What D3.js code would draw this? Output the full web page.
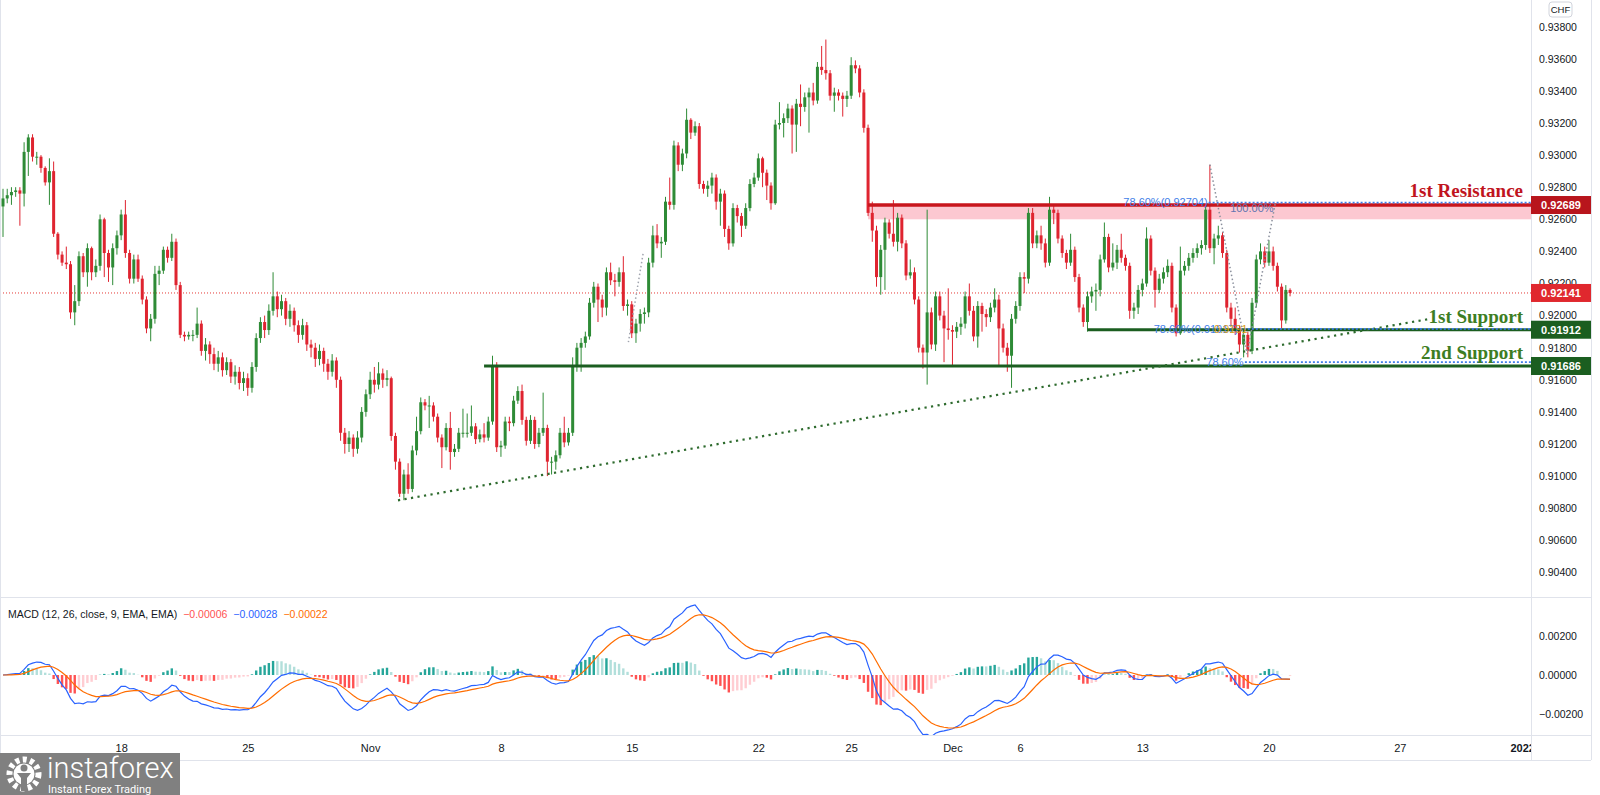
<!DOCTYPE html>
<html>
<head>
<meta charset="utf-8">
<script src="https://cdn.jsdelivr.net/npm/d3@7"></script>
<style>
html, body { margin: 0; padding: 0; background: #fff; }
svg { display: block; }
text { font-family: "Liberation Sans", Arial, sans-serif; }
</style>
</head>
<body>
<div id="chart"></div>
<script>
// USDCHF 4H candles (open = previous close)
var firstOpen = 0.9268;
var closes = [
  0.9273,0.9275,0.9277,0.9278,0.9276,0.9302,0.9311,0.9299,0.9299,0.9292,
  0.9283,0.9290,0.9251,0.9238,0.9233,0.9232,0.9202,0.9209,0.9237,0.9227,
  0.9242,0.9227,0.9231,0.9260,0.9239,0.9230,0.9242,0.9250,0.9263,0.9239,
  0.9223,0.9235,0.9223,0.9210,0.9192,0.9198,0.9226,0.9228,0.9241,0.9236,
  0.9246,0.9219,0.9188,0.9187,0.9188,0.9188,0.9195,0.9178,0.9182,0.9176,
  0.9170,0.9174,0.9166,0.9171,0.9162,0.9165,0.9158,0.9161,0.9155,0.9168,
  0.9186,0.9196,0.9191,0.9203,0.9212,0.9204,0.9209,0.9198,0.9203,0.9194,
  0.9188,0.9194,0.9182,0.9180,0.9173,0.9178,0.9170,0.9165,0.9172,0.9160,
  0.9127,0.9120,0.9124,0.9117,0.9124,0.9140,0.9151,0.9160,0.9157,0.9164,
  0.9160,0.9161,0.9125,0.9109,0.9089,0.9101,0.9092,0.9116,0.9128,0.9146,
  0.9144,0.9144,0.9137,0.9124,0.9118,0.9130,0.9115,0.9117,0.9127,0.9127,
  0.9127,0.9131,0.9123,0.9126,0.9124,0.9134,0.9168,0.9118,0.9119,0.9134,
  0.9133,0.9147,0.9153,0.9135,0.9122,0.9135,0.9120,0.9127,0.9130,0.9109,
  0.9109,0.9113,0.9127,0.9121,0.9127,0.9168,0.9180,0.9183,0.9187,0.9208,
  0.9218,0.9210,0.9205,0.9227,0.9222,0.9221,0.9227,0.9206,0.9207,0.9189,
  0.9195,0.9201,0.9202,0.9233,0.9250,0.9245,0.9246,0.9271,0.9269,0.9306,
  0.9294,0.9301,0.9322,0.9314,0.9318,0.9282,0.9279,0.9281,0.9286,0.9271,
  0.9276,0.9254,0.9245,0.9267,0.9262,0.9256,0.9267,0.9282,0.9286,0.9298,
  0.9289,0.9281,0.9270,0.9319,0.9320,0.9323,0.9329,0.9319,0.9332,0.9330,
  0.9336,0.9339,0.9334,0.9355,0.9353,0.9351,0.9337,0.9339,0.9337,0.9335,
  0.9337,0.9356,0.9354,0.9339,0.9317,0.9264,0.9253,0.9224,0.9241,0.9258,
  0.9251,0.9246,0.9261,0.9245,0.9225,0.9227,0.9210,0.9180,0.9177,0.9202,
  0.9182,0.9212,0.9200,0.9192,0.9191,0.9190,0.9193,0.9195,0.9212,0.9203,
  0.9187,0.9206,0.9201,0.9199,0.9205,0.9210,0.9192,0.9180,0.9175,0.9198,
  0.9206,0.9224,0.9223,0.9264,0.9245,0.9250,0.9245,0.9233,0.9266,0.9264,
  0.9248,0.9239,0.9233,0.9241,0.9224,0.9205,0.9196,0.9212,0.9215,0.9216,
  0.9235,0.9249,0.9230,0.9233,0.9241,0.9236,0.9231,0.9203,0.9205,0.9216,
  0.9220,0.9248,0.9228,0.9216,0.9223,0.9227,0.9231,0.9205,0.9189,0.9228,
  0.9231,0.9236,0.9239,0.9242,0.9244,0.9266,0.9242,0.9248,0.9250,0.9239,
  0.9205,0.9198,0.9191,0.9182,0.9188,0.9178,0.9208,0.9235,0.9240,0.9233,
  0.9240,0.9231,0.9218,0.9197,0.9216,0.92141
];
var highs = [
  0.9279,0.9279,0.9280,0.9280,0.9280,0.9308,0.9313,0.9313,0.9302,0.9300,
  0.9293,0.9298,0.9296,0.9252,0.9240,0.9243,0.9234,0.9219,0.9240,0.9239,
  0.9245,0.9243,0.9235,0.9263,0.9261,0.9241,0.9245,0.9253,0.9266,0.9272,
  0.9241,0.9238,0.9238,0.9225,0.9212,0.9201,0.9231,0.9231,0.9243,0.9243,
  0.9251,0.9248,0.9221,0.9190,0.9190,0.9191,0.9205,0.9197,0.9186,0.9184,
  0.9180,0.9178,0.9177,0.9174,0.9173,0.9169,0.9168,0.9165,0.9164,0.9171,
  0.9189,0.9199,0.9200,0.9207,0.9227,0.9215,0.9213,0.9211,0.9207,0.9205,
  0.9197,0.9198,0.9196,0.9185,0.9183,0.9182,0.9180,0.9173,0.9176,0.9174,
  0.9162,0.9130,0.9128,0.9126,0.9128,0.9143,0.9154,0.9165,0.9168,0.9171,
  0.9167,0.9166,0.9162,0.9127,0.9111,0.9104,0.9108,0.9119,0.9137,0.9149,
  0.9148,0.9150,0.9146,0.9139,0.9126,0.9133,0.9140,0.9120,0.9130,0.9142,
  0.9139,0.9144,0.9133,0.9129,0.9133,0.9137,0.9175,0.9171,0.9122,0.9137,
  0.9137,0.9150,0.9156,0.9157,0.9137,0.9138,0.9137,0.9130,0.9152,0.9132,
  0.9112,0.9116,0.9130,0.9137,0.9130,0.9174,0.9183,0.9186,0.9190,0.9211,
  0.9221,0.9220,0.9213,0.9230,0.9233,0.9226,0.9230,0.9237,0.9210,0.9209,
  0.9198,0.9204,0.9205,0.9236,0.9256,0.9257,0.9249,0.9274,0.9286,0.9309,
  0.9308,0.9304,0.9329,0.9323,0.9321,0.9320,0.9284,0.9284,0.9289,0.9288,
  0.9279,0.9278,0.9256,0.9270,0.9269,0.9264,0.9270,0.9285,0.9289,0.9301,
  0.9299,0.9291,0.9283,0.9322,0.9333,0.9326,0.9332,0.9331,0.9335,0.9344,
  0.9339,0.9342,0.9345,0.9358,0.9368,0.9372,0.9353,0.9342,0.9341,0.9339,
  0.9340,0.9361,0.9359,0.9356,0.9341,0.9319,0.9271,0.9256,0.9244,0.9261,
  0.9260,0.9272,0.9264,0.9263,0.9247,0.9235,0.9230,0.9212,0.9182,0.9266,
  0.9205,0.9215,0.9215,0.9203,0.9217,0.9194,0.9196,0.9199,0.9215,0.9220,
  0.9206,0.9209,0.9208,0.9204,0.9208,0.9217,0.9213,0.9195,0.9183,0.9201,
  0.9209,0.9227,0.9227,0.9267,0.9267,0.9253,0.9256,0.9248,0.9274,0.9269,
  0.9266,0.9250,0.9241,0.9251,0.9243,0.9226,0.9207,0.9215,0.9218,0.9220,
  0.9238,0.9258,0.9251,0.9245,0.9244,0.9251,0.9238,0.9233,0.9208,0.9219,
  0.9223,0.9255,0.9250,0.9230,0.9226,0.9230,0.9235,0.9233,0.9207,0.9243,
  0.9234,0.9239,0.9242,0.9245,0.9247,0.9269,0.9294,0.9251,0.9256,0.9252,
  0.9241,0.9208,0.9205,0.9194,0.9191,0.9190,0.9211,0.9238,0.9245,0.9243,
  0.9247,0.9243,0.9233,0.9220,0.9219,0.9217
];
var lows = [
  0.9249,0.9270,0.9269,0.9274,0.9256,0.9268,0.9287,0.9296,0.9294,0.9289,
  0.9281,0.9269,0.9249,0.9235,0.9231,0.9229,0.9198,0.9194,0.9206,0.9224,
  0.9218,0.9222,0.9224,0.9228,0.9224,0.9221,0.9219,0.9238,0.9247,0.9236,
  0.9220,0.9220,0.9221,0.9207,0.9189,0.9184,0.9195,0.9219,0.9226,0.9233,
  0.9234,0.9216,0.9186,0.9184,0.9185,0.9184,0.9186,0.9175,0.9172,0.9170,
  0.9166,0.9165,0.9162,0.9163,0.9158,0.9157,0.9154,0.9153,0.9150,0.9152,
  0.9165,0.9183,0.9186,0.9188,0.9200,0.9199,0.9200,0.9194,0.9193,0.9190,
  0.9183,0.9185,0.9178,0.9174,0.9168,0.9169,0.9165,0.9160,0.9162,0.9155,
  0.9122,0.9114,0.9115,0.9112,0.9114,0.9121,0.9137,0.9148,0.9152,0.9154,
  0.9155,0.9156,0.9122,0.9104,0.9087,0.9085,0.9089,0.9090,0.9113,0.9126,
  0.9141,0.9130,0.9134,0.9121,0.9105,0.9116,0.9104,0.9112,0.9115,0.9124,
  0.9124,0.9125,0.9120,0.9121,0.9121,0.9122,0.9132,0.9115,0.9112,0.9117,
  0.9128,0.9131,0.9145,0.9132,0.9119,0.9120,0.9117,0.9118,0.9125,0.9100,
  0.9101,0.9104,0.9111,0.9118,0.9119,0.9125,0.9165,0.9165,0.9180,0.9185,
  0.9205,0.9196,0.9199,0.9200,0.9219,0.9212,0.9218,0.9203,0.9200,0.9186,
  0.9183,0.9190,0.9195,0.9199,0.9230,0.9242,0.9236,0.9244,0.9266,0.9266,
  0.9290,0.9290,0.9298,0.9310,0.9312,0.9279,0.9276,0.9274,0.9276,0.9266,
  0.9256,0.9249,0.9241,0.9243,0.9258,0.9249,0.9254,0.9265,0.9280,0.9284,
  0.9280,0.9272,0.9266,0.9269,0.9316,0.9311,0.9320,0.9301,0.9302,0.9318,
  0.9327,0.9314,0.9331,0.9332,0.9350,0.9347,0.9334,0.9327,0.9334,0.9324,
  0.9330,0.9335,0.9351,0.9336,0.9314,0.9262,0.9246,0.9218,0.9213,0.9216,
  0.9248,0.9243,0.9240,0.9242,0.9222,0.9223,0.9207,0.9177,0.9167,0.9157,
  0.9179,0.9178,0.9197,0.9171,0.9185,0.9168,0.9186,0.9188,0.9192,0.9200,
  0.9184,0.9180,0.9190,0.9193,0.9196,0.9202,0.9168,0.9177,0.9165,0.9155,
  0.9195,0.9203,0.9214,0.9220,0.9242,0.9242,0.9241,0.9230,0.9231,0.9257,
  0.9245,0.9236,0.9229,0.9231,0.9221,0.9202,0.9193,0.9190,0.9208,0.9203,
  0.9212,0.9233,0.9227,0.9228,0.9229,0.9233,0.9228,0.9198,0.9198,0.9201,
  0.9212,0.9218,0.9225,0.9205,0.9214,0.9220,0.9224,0.9202,0.9187,0.9188,
  0.9225,0.9228,0.9233,0.9236,0.9238,0.9241,0.9239,0.9232,0.9244,0.9236,
  0.9202,0.9194,0.9188,0.9177,0.9174,0.9174,0.9176,0.9205,0.9232,0.9230,
  0.9231,0.9228,0.9215,0.9191,0.9195,0.9212
];

var priceTicks = [0.938,0.936,0.934,0.932,0.930,0.928,0.926,0.924,0.922,0.920,0.918,0.916,0.914,0.912,0.910,0.908,0.906,0.904];
var macdTicks = [0.002, 0, -0.002];
var timeTickIdx = [28, 58, 87, 118, 149, 179, 201, 225, 241, 270, 300, 331, 360];
var timeTickText = ["18", "25", "Nov", "8", "15", "22", "25", "Dec", "6", "13", "20", "27", "2022"];
var macdLegend = ["\u22120.00006", "\u22120.00028", "\u22120.00022"];

// levels drawn on the chart
var lastPrice = 0.92141;
var res1 = 0.92689, res1Zone = 0.9260, res1Start = 205;
var sup1 = 0.91912, sup1Start = 257;
var sup2 = 0.91686, sup2Start = 114;
var trendLine = [[93.6, 0.90849], [338, 0.91979]];
var fibTop = 0.92704, fibMid = 0.91917, fibLow = 0.91710;
var zigzag = [[286, 0.9294], [294.8, 0.9176], [301.5, 0.9270]];
var zigzagSmall = [[148.2, 0.91834], [151.7, 0.92388]];

var W = 1600, H = 795;
var plotRight = 1531, axisRight = 1591;
var paneSplit = 597, timeTop = 735, timeBottom = 760;

var svg = d3.select("#chart").append("svg")
  .attr("width", W).attr("height", H);

var x = d3.scaleLinear().domain([0, 362.1]).range([3, plotRight]);
var y = d3.scaleLinear().domain([0.904, 0.938]).range([572.4, 26.7]);
var yM = d3.scaleLinear().domain([-0.002, 0.002]).range([714, 636]);

var defs = svg.append("defs");
defs.append("clipPath").attr("id", "mainClip").append("rect")
  .attr("x", 0).attr("y", 0).attr("width", plotRight).attr("height", paneSplit);
defs.append("clipPath").attr("id", "macdClip").append("rect")
  .attr("x", 0).attr("y", paneSplit + 1).attr("width", plotRight).attr("height", timeTop - paneSplit - 1);
defs.append("clipPath").attr("id", "timeClip").append("rect")
  .attr("x", 0).attr("y", timeTop).attr("width", plotRight).attr("height", timeBottom - timeTop);

var main = svg.append("g").attr("clip-path", "url(#mainClip)");

// resistance zone
main.append("rect")
  .attr("x", x(res1Start)).attr("width", plotRight - x(res1Start))
  .attr("y", y(res1)).attr("height", y(res1Zone) - y(res1))
  .attr("fill", "#fcc8d1");

// last price dotted line
main.append("line")
  .attr("x1", 0).attr("x2", plotRight)
  .attr("y1", y(lastPrice)).attr("y2", y(lastPrice))
  .attr("stroke", "#e53935").attr("stroke-width", 1).attr("stroke-dasharray", "1,2");

// candles
var candles = closes.map(function(c, i) {
  var o = i ? closes[i - 1] : firstOpen;
  return {i: i, o: o, c: c, h: Math.max(highs[i], o, c), l: Math.min(lows[i], o, c)};
});
var up = "#2e8b36", down = "#df2430";
var cg = main.append("g");
cg.selectAll(".wick").data(candles).enter().append("line")
  .attr("class", "wick")
  .attr("x1", function(d) { return x(d.i); })
  .attr("x2", function(d) { return x(d.i); })
  .attr("y1", function(d) { return y(d.h); })
  .attr("y2", function(d) { return y(d.l); })
  .attr("stroke", function(d) { return d.c >= d.o ? up : down; })
  .attr("stroke-width", 1);
cg.selectAll(".body").data(candles).enter().append("rect")
  .attr("class", "body")
  .attr("x", function(d) { return x(d.i) - 1.5; })
  .attr("width", 3)
  .attr("y", function(d) { return y(Math.max(d.o, d.c)); })
  .attr("height", function(d) { return Math.max(1, Math.abs(y(d.o) - y(d.c))); })
  .attr("fill", function(d) { return d.c >= d.o ? up : down; });

// support / resistance lines
main.append("line")
  .attr("x1", x(res1Start)).attr("x2", plotRight)
  .attr("y1", y(res1)).attr("y2", y(res1))
  .attr("stroke", "#c8161d").attr("stroke-width", 3.5);
main.append("line")
  .attr("x1", x(sup1Start)).attr("x2", plotRight)
  .attr("y1", y(sup1)).attr("y2", y(sup1))
  .attr("stroke", "#1b5e20").attr("stroke-width", 3);
main.append("line")
  .attr("x1", x(sup2Start)).attr("x2", plotRight)
  .attr("y1", y(sup2)).attr("y2", y(sup2))
  .attr("stroke", "#1b5e20").attr("stroke-width", 3);

// rising trend line
main.append("line")
  .attr("x1", x(trendLine[0][0])).attr("y1", y(trendLine[0][1]))
  .attr("x2", x(trendLine[1][0])).attr("y2", y(trendLine[1][1]))
  .attr("stroke", "#2e6b2e").attr("stroke-width", 2.2).attr("stroke-dasharray", "2.2,4.4");

// fib dotted levels
var fibBlue = "#3f7ee8";
function fibLine(level, fromIdx) {
  main.append("line")
    .attr("x1", x(fromIdx)).attr("x2", plotRight)
    .attr("y1", y(level)).attr("y2", y(level))
    .attr("stroke", fibBlue).attr("stroke-width", 1.6).attr("stroke-dasharray", "2,2");
}
fibLine(fibTop, 285.7);
fibLine(fibMid, 293.1);
fibLine(fibLow, 294.3);

var line = d3.line().x(function(d) { return x(d[0]); }).y(function(d) { return y(d[1]); });
main.append("path").attr("d", line(zigzag))
  .attr("fill", "none").attr("stroke", "#8a8f9c").attr("stroke-width", 1.5).attr("stroke-dasharray", "1.5,2.5");
main.append("path").attr("d", line(zigzagSmall))
  .attr("fill", "none").attr("stroke", "#a0a4ae").attr("stroke-width", 1.5).attr("stroke-dasharray", "1.5,2.5");

// fib texts
main.append("text").attr("x", x(285.5)).attr("y", y(fibTop) + 3.7)
  .attr("text-anchor", "end").attr("fill", fibBlue).style("font-size", "11px").text("78.60%(0.92704)");
main.append("text").attr("x", x(290.8)).attr("y", y(fibTop) + 9)
  .attr("fill", "#6275b0").style("font-size", "11px").text("100.00%");
main.append("text").attr("x", x(292.7)).attr("y", y(fibMid) + 4.5)
  .attr("text-anchor", "end").attr("fill", fibBlue).style("font-size", "11px").text("78.60%(0.91917)");
main.append("text").attr("x", x(287)).attr("y", y(fibMid) + 4.5)
  .attr("fill", "#e0a020").style("font-size", "11px").text("0.9191");
main.append("text").attr("x", x(294)).attr("y", y(fibLow) + 4)
  .attr("text-anchor", "end").attr("fill", fibBlue).style("font-size", "11px").text("78.60%");

// level names
function levelName(txt, level, dy, color) {
  svg.append("text").attr("x", 1523).attr("y", y(level) + dy)
    .attr("text-anchor", "end").attr("fill", color)
    .style("font-family", "'Liberation Serif', 'DejaVu Serif', serif")
    .style("font-weight", "bold").style("font-size", "19px").text(txt);
}
levelName("1st Resistance", res1, -8, "#c0141e");
levelName("1st Support", sup1, -7, "#3d7d23");
levelName("2nd Support", sup2, -7, "#3d7d23");

// MACD (12, 26, close, 9) from the closes above
function ema(arr, n) {
  var k = 2 / (n + 1), prev = arr[0];
  return arr.map(function(v, i) { prev = i ? v * k + prev * (1 - k) : v; return prev; });
}
var e12 = ema(closes, 12), e26 = ema(closes, 26);
var macd = e12.map(function(v, i) { return v - e26[i]; });
var signal = ema(macd, 9);
var hist = macd.map(function(v, i) { return v - signal[i]; });

var mg = svg.append("g").attr("clip-path", "url(#macdClip)");
mg.selectAll(".hist").data(hist).enter().append("rect")
  .attr("class", "hist")
  .attr("x", function(d, i) { return x(i) - 1.2; })
  .attr("width", 2.4)
  .attr("y", function(d) { return Math.min(yM(0), yM(d)); })
  .attr("height", function(d) { return Math.abs(yM(d) - yM(0)); })
  .attr("fill", function(d, i) {
    var p = i ? hist[i - 1] : d;
    if (d >= 0) return d >= p ? "#26a69a" : "#b2dfdb";
    return d < p ? "#ff5252" : "#ffcdd2";
  });
var mline = d3.line().x(function(d, i) { return x(i); }).y(function(d) { return yM(d); });
mg.append("path").attr("d", mline(macd)).attr("fill", "none").attr("stroke", "#2962ff").attr("stroke-width", 1.2);
mg.append("path").attr("d", mline(signal)).attr("fill", "none").attr("stroke", "#ff6d00").attr("stroke-width", 1.2);

var legend = svg.append("text").attr("x", 8).attr("y", 618).style("font-size", "10.5px").attr("fill", "#131722");
legend.append("tspan").text("MACD (12, 26, close, 9, EMA, EMA)");
legend.append("tspan").attr("dx", 6).attr("fill", "#ff5252").text(macdLegend[0]);
legend.append("tspan").attr("dx", 6).attr("fill", "#2962ff").text(macdLegend[1]);
legend.append("tspan").attr("dx", 6).attr("fill", "#ff6d00").text(macdLegend[2]);

// frame
var frame = svg.append("g").attr("stroke", "#e0e3eb").attr("stroke-width", 1);
frame.append("line").attr("x1", 0.5).attr("x2", 0.5).attr("y1", 0).attr("y2", timeBottom);
frame.append("line").attr("x1", plotRight + 0.5).attr("x2", plotRight + 0.5).attr("y1", 0).attr("y2", timeBottom);
frame.append("line").attr("x1", axisRight + 0.5).attr("x2", axisRight + 0.5).attr("y1", 0).attr("y2", timeBottom);
frame.append("line").attr("x1", 0).attr("x2", axisRight).attr("y1", paneSplit + 0.5).attr("y2", paneSplit + 0.5);
frame.append("line").attr("x1", 0).attr("x2", axisRight).attr("y1", timeTop + 0.5).attr("y2", timeTop + 0.5);
frame.append("line").attr("x1", 0).attr("x2", axisRight).attr("y1", timeBottom + 0.5).attr("y2", timeBottom + 0.5);

// price axis
var fmt = d3.format(".5f");
var pAxis = svg.append("g").attr("transform", "translate(" + plotRight + ",0)")
  .call(d3.axisRight(y).tickValues(priceTicks).tickFormat(fmt).tickSize(0).tickPadding(8));
pAxis.select(".domain").remove();
pAxis.selectAll("text").style("font-size", "10.5px").attr("fill", "#131722")
  .style("font-family", "'Liberation Sans', Arial, sans-serif");

var mAxis = svg.append("g").attr("transform", "translate(" + plotRight + ",0)")
  .call(d3.axisRight(yM).tickValues(macdTicks).tickFormat(fmt).tickSize(0).tickPadding(8));
mAxis.select(".domain").remove();
mAxis.selectAll("text").style("font-size", "10.5px").attr("fill", "#131722")
  .style("font-family", "'Liberation Sans', Arial, sans-serif");

// time axis (clip on an untransformed wrapper)
var tWrap = svg.append("g").attr("clip-path", "url(#timeClip)");
var tAxis = tWrap.append("g").attr("transform", "translate(0," + timeTop + ")")
  .call(d3.axisBottom(x).tickValues(timeTickIdx)
    .tickFormat(function(d, i) { return timeTickText[i]; }).tickSize(0).tickPadding(9));
tAxis.select(".domain").remove();
tAxis.selectAll("text").style("font-size", "11px").attr("fill", "#131722")
  .style("font-family", "'Liberation Sans', Arial, sans-serif");
tAxis.selectAll(".tick").filter(function(d, i) { return timeTickText[i] === "2022"; })
  .select("text").style("font-weight", "bold");

// price tags
var tags = [
  {v: res1, fill: "#b8151c"},
  {v: lastPrice, fill: "#e0282e"},
  {v: sup1, fill: "#1b5e20"},
  {v: sup2, fill: "#1b5e20"}
];
var tg = svg.selectAll(".tag").data(tags).enter().append("g").attr("class", "tag");
tg.append("rect")
  .attr("x", plotRight).attr("width", axisRight - plotRight)
  .attr("y", function(d) { return y(d.v) - 9; }).attr("height", 18)
  .attr("fill", function(d) { return d.fill; });
tg.append("text")
  .attr("x", (plotRight + axisRight) / 2).attr("y", function(d) { return y(d.v) + 4; })
  .attr("text-anchor", "middle").attr("fill", "#fff")
  .style("font-size", "11px").style("font-weight", "bold")
  .text(function(d) { return fmt(d.v); });

// currency badge
svg.append("rect").attr("x", 1549).attr("y", 2).attr("width", 23).attr("height", 15).attr("rx", 3)
  .attr("fill", "#fff").attr("stroke", "#d1d4dc");
svg.append("text").attr("x", 1560.5).attr("y", 13).attr("text-anchor", "middle")
  .attr("fill", "#131722").style("font-size", "9.5px").text("CHF");

// watermark logo
var logo = svg.append("g");
logo.append("rect").attr("x", 0).attr("y", 753).attr("width", 180).attr("height", 42).attr("fill", "#808080");
logo.append("circle").attr("cx", 24).attr("cy", 774).attr("r", 14.5)
  .attr("fill", "none").attr("stroke", "#fff").attr("stroke-width", 6).attr("stroke-dasharray", "4,3.4");
logo.append("circle").attr("cx", 24).attr("cy", 774).attr("r", 10.5).attr("fill", "#fff");
logo.append("circle").attr("cx", 24).attr("cy", 768).attr("r", 3.5).attr("fill", "#808080");
logo.append("path").attr("d", "M17,773 L31,773 L27,778 L27,791 L21,791 L21,778 Z").attr("fill", "#808080");
logo.append("text").attr("x", 47).attr("y", 778).attr("fill", "#fff")
  .style("font-family", "Roboto, 'Open Sans', sans-serif").style("font-weight", 300)
  .style("font-size", "29px").text("instaforex");
logo.append("text").attr("x", 48).attr("y", 793).attr("fill", "#fff")
  .style("font-family", "Roboto, 'Open Sans', sans-serif")
  .style("font-size", "11px").text("Instant Forex Trading");
</script>
</body>
</html>
